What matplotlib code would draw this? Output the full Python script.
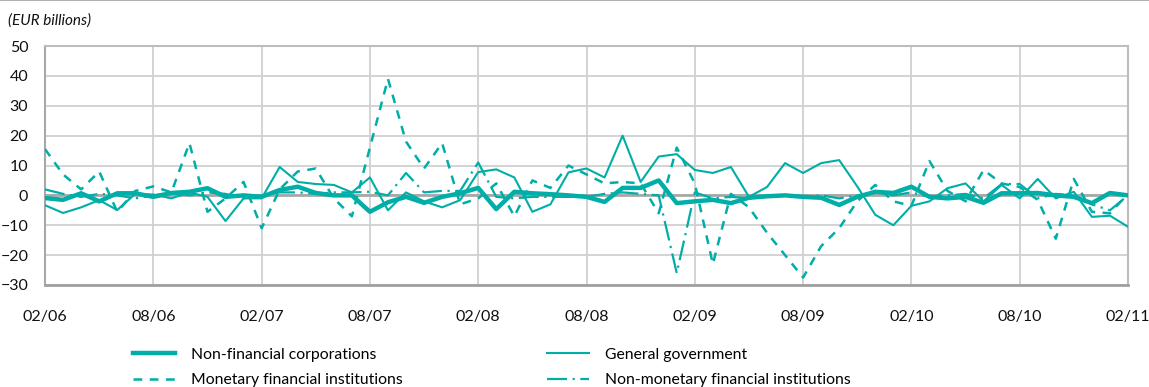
import numpy as np
import matplotlib.pyplot as plt
from matplotlib.lines import Line2D

plt.rcParams['font.family'] = ['Lato', 'DejaVu Sans']

# monthly flows, EUR billions, 02/06 .. 02/11
nfc = [-0.9, -1.5, 0.7, -2, 0.7, 0.7, -0.5, 0.8, 1.2, 2.4,
       -0.5, 0, -0.5, 1.8, 2.9, 0.8, 0, 0, -5.5, -2.3,
       -0.5, -2.5, -0.5, 0.7, 2.5, -4.6, 1.2, 0.7, 0.4, 0,
       -0.5, -2.2, 2.5, 2.5, 5, -2.6, -2, -1.5, -2.6, -0.8,
       -0.3, 0, -0.5, -0.8, -3.2, -0.5, 1.2, 0.8, 2.9, -0.5,
       -1, -0.5, -2.5, 0.7, 0.7, 0.8, 0, -0.5, -2.6, 0.8, 0]
gg = [-3.3, -5.9, -4, -1.6, -4.9, 0.5, 0.3, -1, 1, -0.5,
      -8.6, -1, -1, 9.5, 4.5, 3.8, 3.5, 1, 6, -5,
      1, -2, -4, -1.6, 7.8, 8.7, 6, -5.5, -3, 7.7,
      9, 6, 20, 4.5, 13, 13.8, 8.5, 7.5, 9.5, -0.5,
      2.8, 10.8, 7.5, 10.8, 11.8, 3, -6.5, -10, -3.5, -2,
      2.4, 4, -2, 3.5, -1, 5.5, -1, 1.2, -7.2, -6.8, -10.5]
mfi = [15.5, 7, 2, 8, -5.5, 1.5, 3, 1, 17.5, -5.5,
       -1, 4.5, -11, 2, 8, 9, -1, -7, 16, 39,
       18, 9, 17.5, -3, -1, 4, -7, 5, 2.5, 10,
       7, 4, 4.5, 4, -6, 16, 4, -23, 0.5, -4,
       -12.5, -20, -27.5, -17, -11, -2, 3.5, -2, -3.5, 11.5,
       1.5, -2, 8.5, 4, 2.8, -1.5, -14.5, 5.5, -5.5, -6, 0.5]
nmfi = [2, 0.5, -0.5, 0.5, 0, -1, 0, 1, 0, 1,
        0.5, -1, 0, 1, 1, 0.5, 1, 1, 1.2, 0,
        7.5, 1, 1.5, 1.5, 11, -0.5, -1, -0.5, -0.5, -0.5,
        -0.5, 0.5, 1, 0.5, 0, -26, 1, -1, -0.5, -1,
        -0.5, 0, -0.5, 0, -1, 0, 1, 0, 1, -0.5,
        0, 0.5, -1, 3.8, 3.8, -1, 0.5, 0, -3, -5, 0]

tick_labels = ['02/06', '08/06', '02/07', '08/07', '02/08', '08/08',
               '02/09', '08/09', '02/10', '08/10', '02/11']
labels = ['Non-financial corporations', 'Monetary financial institutions',
          'General government', 'Non-monetary financial institutions']

teal = '#00aea8'
x = np.arange(len(nfc))

fig = plt.figure(figsize=(11.49, 3.87), dpi=100)
ax = fig.add_axes([0.0392, 0.2636, 0.9425, 0.6175])

ax.set_xlim(0, 60)
ax.set_ylim(-30, 50)
ax.set_xticks(np.arange(0, 61, 6))
ax.set_xticklabels(tick_labels)
ax.set_yticks(np.arange(-30, 51, 10))
ax.grid(True, color='#d0d0d0', lw=1.3)
ax.set_axisbelow(True)
ax.axhline(0, color='#a8a8a8', lw=2, zorder=1)

for s in ax.spines.values():
    s.set_color('#bdbdbd')
    s.set_linewidth(1.5)
ax.spines['bottom'].set_color('#a0a0a0')
ax.spines['bottom'].set_linewidth(2)
ax.spines['left'].set_color('#a8a8a8')
ax.tick_params(length=0, labelsize=11.5, colors='#111111')
ax.tick_params(axis='x', pad=18)
ax.tick_params(axis='y', pad=12)

l1, = ax.plot(x, nfc, color=teal, lw=3.2, zorder=5)
l3, = ax.plot(x, gg, color=teal, lw=1.5, zorder=4)
l2, = ax.plot(x, mfi, color=teal, lw=1.8, ls=(0, (3.5, 3)), zorder=3)
l4, = ax.plot(x, nmfi, color=teal, lw=1.6, ls=(0, (9, 2.5, 1, 2.5)), zorder=3)

fig.text(0.007, 0.948, '(EUR billions)', style='italic', fontsize=11,
         color='#111111', va='center')
fig.add_artist(Line2D([0, 1], [0.999, 0.999], color='#b0b0b0', lw=1.5,
                      transform=fig.transFigure))

fig.legend([l1, l2, l3, l4], labels, ncol=2, loc='upper left',
           bbox_to_anchor=(0.1155, 0.102), frameon=False, fontsize=11.3,
           handlelength=2.7, handletextpad=1.0, columnspacing=9.2,
           labelspacing=0.76, borderaxespad=0, borderpad=0)

fig.savefig('out.png', dpi=100)
